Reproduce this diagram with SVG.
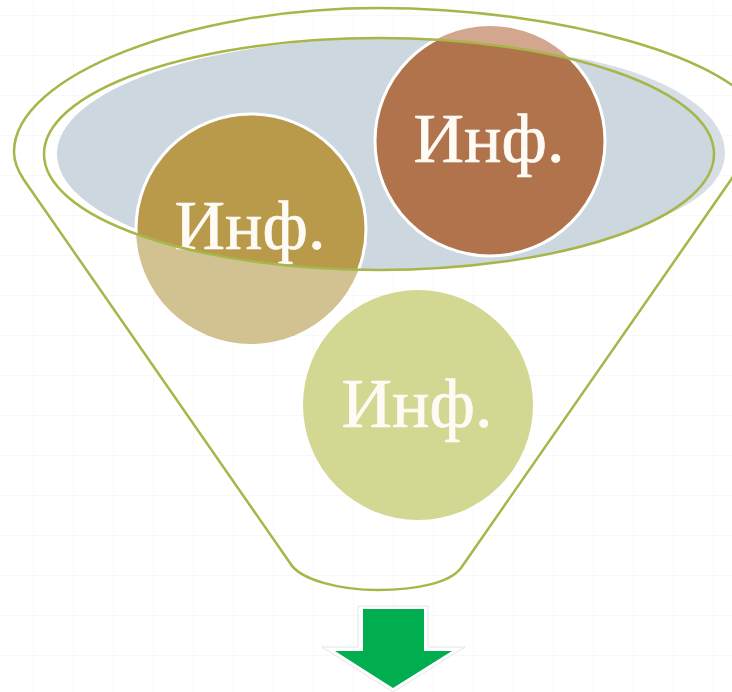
<svg xmlns="http://www.w3.org/2000/svg" width="732" height="692" viewBox="0 0 732 692">
<style>
.outline{fill:none;stroke:#a6b648;stroke-width:2.5}
.lab{font-family:"Liberation Serif","DejaVu Serif",serif;font-size:70px;fill:#fdfbf4;stroke:#fdfbf4;stroke-width:.7;text-anchor:middle}
.ring{stroke:#fff;stroke-width:3}
</style>
<defs>
<pattern id="grid" width="40" height="40" patternUnits="userSpaceOnUse" x="33" y="15">
<path d="M0 0H40M0 0V40" fill="none" stroke="#f8f8f8" stroke-width="2"/>
</pattern>
<clipPath id="inner"><ellipse cx="379" cy="154" rx="335" ry="116"/></clipPath>
</defs>
<rect width="732" height="692" fill="#fff"/>
<rect width="732" height="692" fill="url(#grid)"/>
<g id="back-ellipse">
<path d="M565 56C660 70 725 110 725 152C725 180 700 202 655 220L600 200L600 80Z" fill="#d8dee6"/>
<g clip-path="url(#inner)"><ellipse cx="391" cy="154" rx="334" ry="116" fill="#cdd7df"/></g>
</g>
<g id="circle-gold">
<circle cx="251" cy="229" r="115" fill="#d2c292"/>
<g clip-path="url(#inner)"><circle class="ring" cx="251" cy="229" r="115" fill="#b9994a"/></g>
<text class="lab" x="250" y="249">Инф.</text>
</g>
<g id="circle-brown">
<circle cx="490" cy="141" r="115" fill="#d3a68f"/>
<g clip-path="url(#inner)"><circle class="ring" cx="490" cy="141" r="115" fill="#b0734c"/></g>
<text class="lab" x="489" y="162">Инф.</text>
</g>
<g id="circle-green">
<circle cx="418" cy="405" r="115" fill="#d2d792"/>
<text class="lab" x="417" y="427">Инф.</text>
</g>
<g id="funnel">
<ellipse class="outline" cx="379" cy="154" rx="335" ry="116"/>
<path class="outline" d="M760 118C742 60 560 8 378 8C190 8 14 75 14 152C14 162 18 171 24 180L290 563C300 580 340 590 378 590C415 590 450 583 461 568L735 174"/>
</g>
<g id="arrow">
<path d="M358 606H428V647H465L393 692L322 647H358Z" fill="#fff" stroke="#e4e4e4" stroke-width="1"/>
<path d="M363 609H424V651H452L393 688L335 651H363Z" fill="#00ae50"/>
</g>
</svg>
